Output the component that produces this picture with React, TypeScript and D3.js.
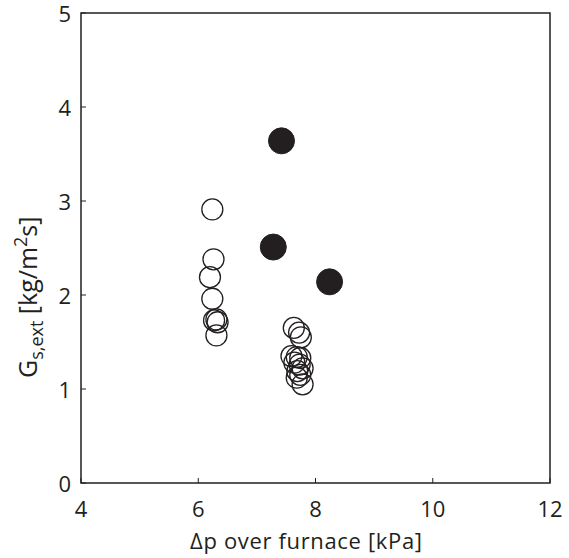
import React from "react";
import * as d3 from "d3";

const xTicks = [4, 6, 8, 10, 12];
const yTicks = [0, 1, 2, 3, 4, 5];

const openX = [6.24, 6.26, 6.2, 6.24, 6.31, 6.27, 6.33, 6.31,
  7.63, 7.72, 7.75, 7.59, 7.68, 7.74, 7.64, 7.73, 7.78, 7.69, 7.74, 7.68, 7.78];
const openY = [2.91, 2.38, 2.19, 1.96, 1.74, 1.73, 1.71, 1.57,
  1.65, 1.6, 1.55, 1.35, 1.34, 1.33, 1.28, 1.26, 1.22, 1.19, 1.15, 1.12, 1.05];

const filledX = [7.42, 7.28, 8.24];
const filledY = [3.64, 2.51, 2.14];

const W = 569, H = 558;
const L = 81, R = 550, T = 13, B = 483;
const font = "'Open Sans', 'DejaVu Sans', sans-serif";
const fs = 22;

export default function App() {
  const x = d3.scaleLinear().domain([4, 12]).range([L, R]);
  const y = d3.scaleLinear().domain([0, 5]).range([B, T]);
  return (
    <svg width={W} height={H} style={{ position: "absolute", left: 0, top: 0, background: "#fff" }}>
      <rect x={L} y={T} width={R - L} height={B - T} fill="none" stroke="#231f20" strokeWidth={1.5} />
      {xTicks.map((t) => (
        <g key={"x" + t}>
          <line x1={x(t)} x2={x(t)} y1={B} y2={B - 5} stroke="#231f20" strokeWidth={1} />
          <text x={x(t)} y={B + 34} textAnchor="middle" fontSize={fs} fontFamily={font} fill="#231f20">{t}</text>
        </g>
      ))}
      {yTicks.map((t) => (
        <g key={"y" + t}>
          <line x1={L} x2={L + 5} y1={y(t)} y2={y(t)} stroke="#231f20" strokeWidth={1} />
          <text x={L - 10} y={y(t) + 9} textAnchor="end" fontSize={fs} fontFamily={font} fill="#231f20">{t}</text>
        </g>
      ))}
      <text x={306} y={H - 9} textAnchor="middle" fontSize={fs} fontFamily={font} fill="#231f20" textLength={232}>
        Δp over furnace [kPa]
      </text>
      <text transform={`translate(37,378) rotate(-90)`} textAnchor="start" fontSize={25} fontFamily={font} fill="#231f20">
        G<tspan fontSize={18} dy={6}>s,ext</tspan><tspan dy={-6}> [kg/m</tspan><tspan fontSize={18} dy={-10}>2</tspan><tspan dy={10}>s]</tspan>
      </text>
      {openX.map((v, i) => (
        <circle key={"o" + i} cx={x(v)} cy={y(openY[i])} r={10.5} fill="none" stroke="#231f20" strokeWidth={1.3} />
      ))}
      {filledX.map((v, i) => (
        <circle key={"f" + i} cx={x(v)} cy={y(filledY[i])} r={13} fill="#231f20" stroke="#231f20" strokeWidth={1} />
      ))}
    </svg>
  );
}
